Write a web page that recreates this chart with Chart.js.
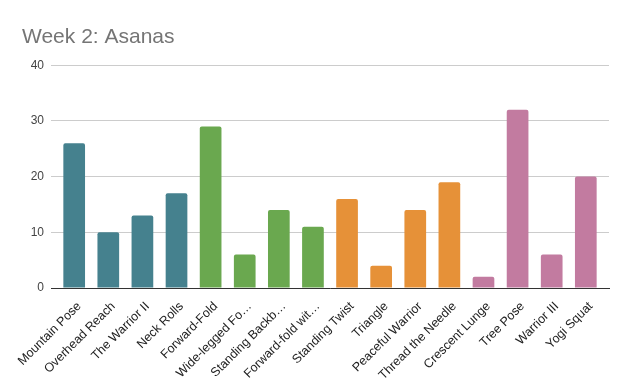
<!DOCTYPE html>
<html>
<head>
<meta charset="utf-8">
<script src="https://cdn.jsdelivr.net/npm/chart.js@4/dist/chart.umd.min.js"></script>
<style>
  html, body { margin: 0; padding: 0; background: #fff; }
  #wrap { width: 627px; height: 381px; }
</style>
</head>
<body>
<div id="wrap"><canvas id="asanaChart"></canvas></div>
<script>
const labels = [
  "Mountain Pose", "Overhead Reach", "The Warrior II", "Neck Rolls",
  "Forward-Fold", "Wide-legged Fo…", "Standing Backb…", "Forward-fold wit…",
  "Standing Twist", "Triangle", "Peaceful Warrior", "Thread the Needle",
  "Crescent Lunge", "Tree Pose", "Warrior III", "Yogi Squat"
];
const counts = [26, 10, 13, 17, 29, 6, 14, 11, 16, 4, 14, 19, 2, 32, 6, 20];
const groups = [0, 0, 0, 0, 1, 1, 1, 1, 2, 2, 2, 2, 3, 3, 3, 3];
const groupColors = ["#45818e", "#6aa84f", "#e69138", "#c27ba0"];
const yTicks = [0, 10, 20, 30, 40];

Chart.defaults.font.family = "Arial, 'Liberation Sans', sans-serif";

const ctx = document.getElementById("asanaChart").getContext("2d");
const asanaChart = new Chart(ctx, {
  type: "bar",
  data: {
    labels: labels,
    datasets: [
      {
        label: "Count",
        data: counts,
        backgroundColor: groups.map((g) => groupColors[g]),
        borderRadius: { topLeft: 2, topRight: 2 },
        borderSkipped: "bottom",
        categoryPercentage: 1,
        barPercentage: 0.636,
      },
    ],
  },
  options: {
    responsive: true,
    maintainAspectRatio: false,
    animation: false,
    layout: { padding: { left: 22, right: 18, top: 13, bottom: 0 } },
    plugins: {
      legend: { display: false },
      tooltip: { enabled: false },
      title: {
        display: true,
        text: "Week 2: Asanas",
        align: "start",
        color: "#757575",
        font: { size: 21, weight: "normal" },
        padding: { top: 12, bottom: 15 },
      },
    },
    scales: {
      x: {
        grid: { display: false },
        border: { color: "#333333", width: 1 },
        // a bit of empty space at both ends, like the original
        afterBuildTicks: (axis) => {
          axis._startValue -= 0.18;
          axis._valueRange += 0.36;
        },
        afterFit: (scale) => {
          scale.height = 93;
          scale.paddingLeft = 0;
          scale.paddingRight = 0;
        },
        ticks: {
          color: "#222222",
          font: { size: 12.5 },
          maxRotation: 45,
          minRotation: 45,
          autoSkip: false,
          padding: 3,
          labelOffset: 5,
        },
      },
      y: {
        min: 0,
        max: 40,
        afterBuildTicks: (axis) => {
          axis.ticks = yTicks.map((v) => ({ value: v }));
        },
        afterFit: (scale) => {
          scale.width = 29;
        },
        grid: { color: "#cccccc", drawTicks: false },
        border: { display: false },
        ticks: {
          color: "#444444",
          font: { size: 12 },
          padding: 7,
        },
      },
    },
  },
});
</script>
</body>
</html>
